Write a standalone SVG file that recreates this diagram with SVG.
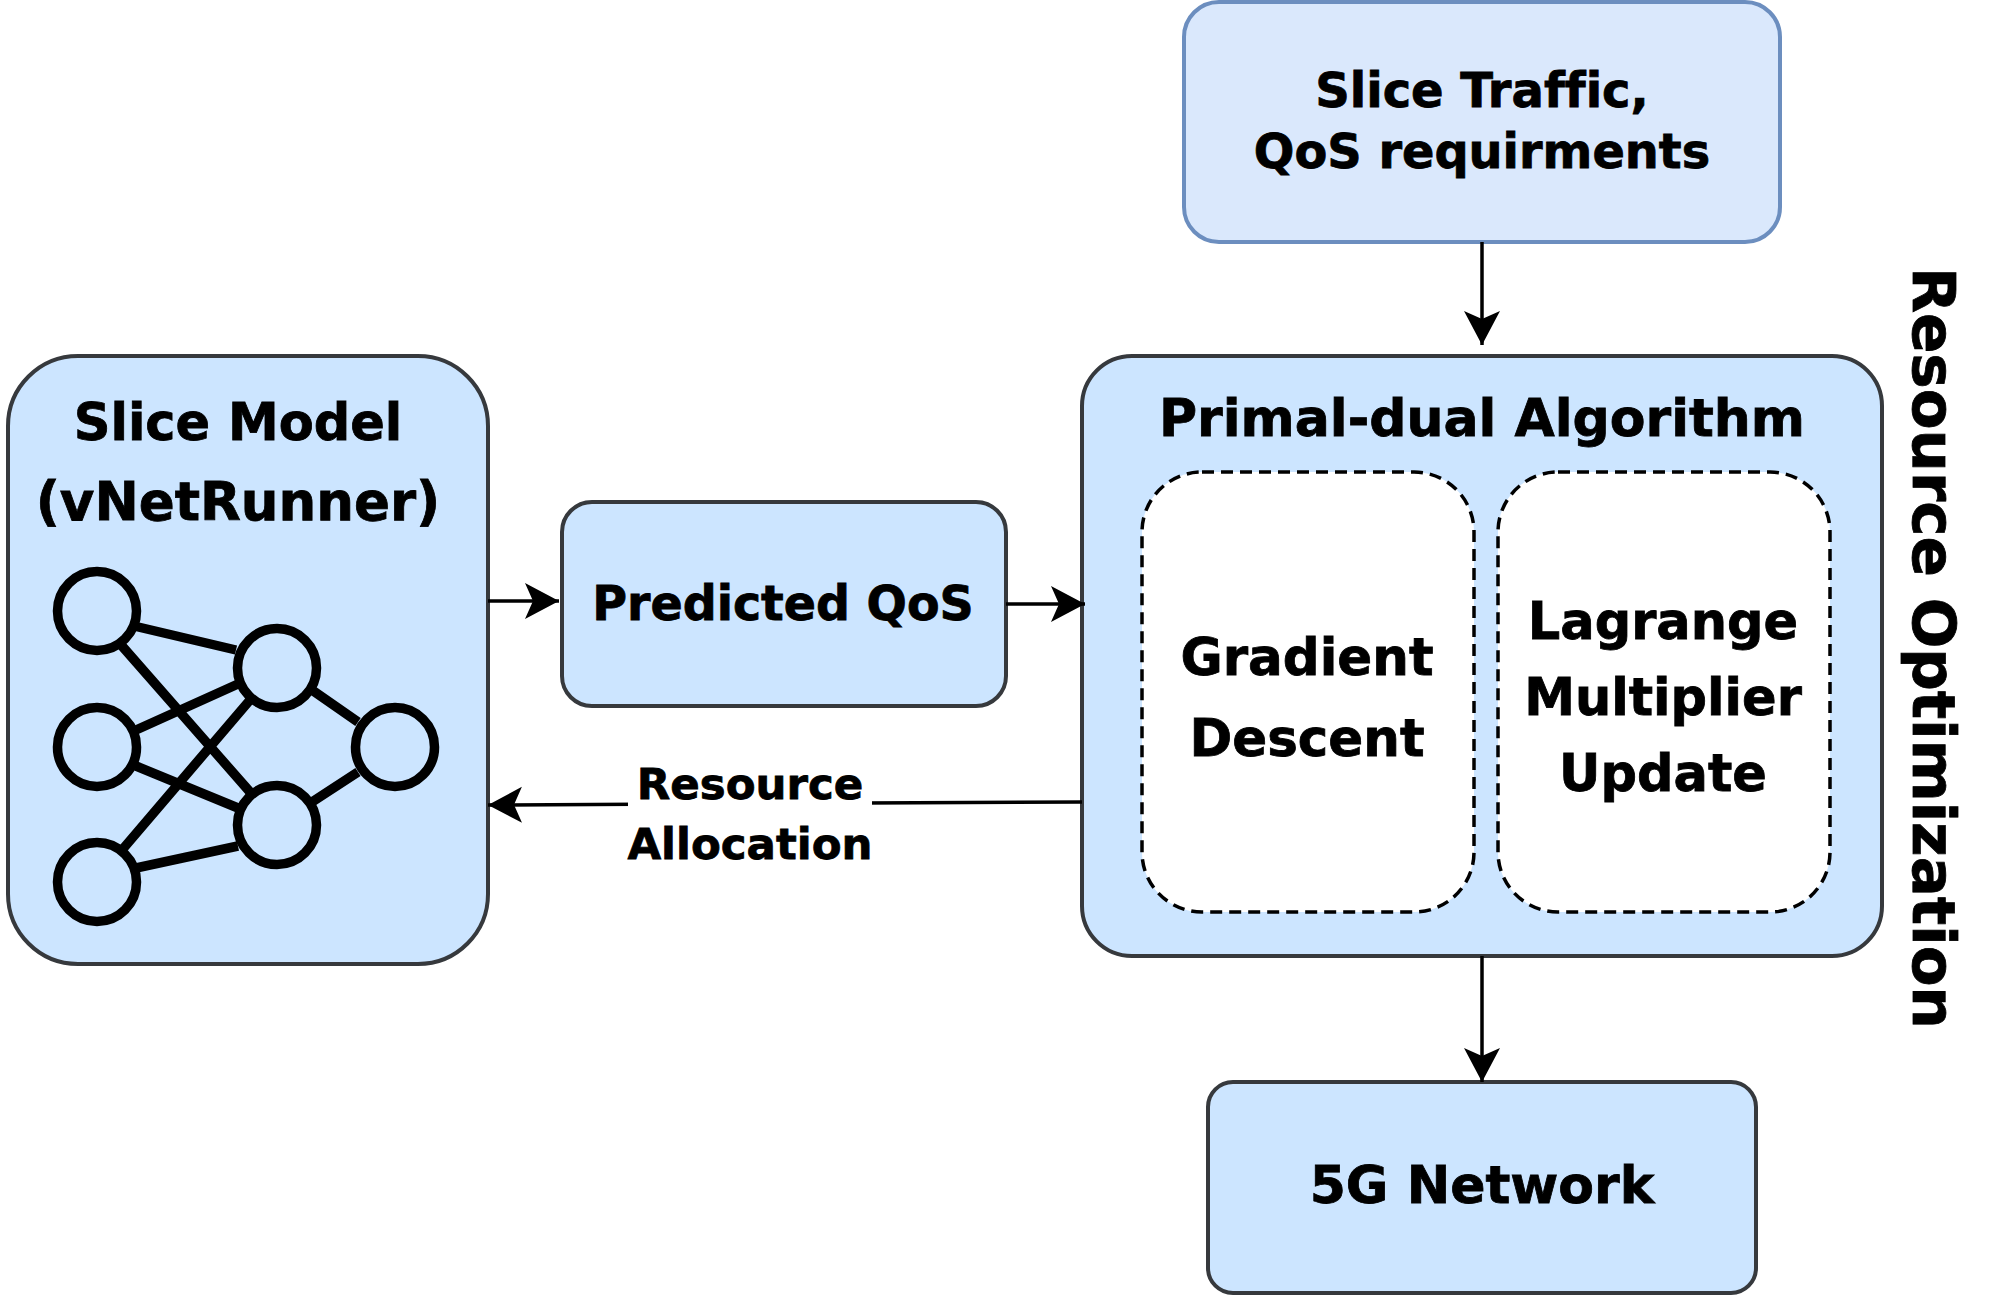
<svg xmlns="http://www.w3.org/2000/svg" width="2004" height="1296" viewBox="0 0 2004 1296">
<style>
.box{fill:#cce5ff;stroke:#36393d;stroke-width:4}
.inner{fill:#fff;stroke:#000;stroke-width:3.5;stroke-dasharray:12 7}
.t{font-family:"DejaVu Sans",sans-serif;font-weight:700;fill:#000;stroke:#000;stroke-width:.8;text-anchor:middle;font-variant-ligatures:none}
.c{fill:none;stroke:#000;stroke-width:3.5}
.nn{fill:none;stroke:#000;stroke-width:9.5}
</style>
<defs>
<marker id="arr" markerUnits="userSpaceOnUse" markerWidth="40" markerHeight="40" refX="34" refY="20" orient="auto" viewBox="0 0 40 40">
<path d="M0 2L34 20L0 38L8 20Z" fill="#000"/>
</marker>
</defs>
<rect width="2004" height="1296" fill="#fff"/>
<g id="slice-model">
<rect class="box" x="8" y="356" width="480" height="608" rx="70"/>
<text class="t" font-size="51" x="238" y="440">Slice Model</text>
<text class="t" font-size="53" x="238" y="520">(vNetRunner)</text>
<g class="nn">
<path d="M134 626L236 650M122 646L250 792M136 730L238 684M136 766L238 808M122 850L250 700M136 868L238 846M312 690L358 722M312 802L358 772"/>
<circle cx="97" cy="611" r="39.5"/><circle cx="97" cy="747" r="39.5"/><circle cx="97" cy="882" r="39.5"/>
<circle cx="277" cy="668" r="39.5"/><circle cx="277" cy="825" r="39.5"/><circle cx="395" cy="747" r="39.5"/>
</g>
</g>
<g id="predicted-qos">
<rect class="box" x="562" y="502" width="444" height="204" rx="30"/>
<text class="t" font-size="47.5" x="783" y="620">Predicted QoS</text>
</g>
<g id="primal-dual">
<rect class="box" x="1082" y="356" width="800" height="600" rx="50"/>
<text class="t" font-size="52" x="1482" y="436">Primal-dual Algorithm</text>
</g>
<g id="gradient-descent">
<rect class="inner" x="1142" y="472" width="332" height="440" rx="60"/>
<text class="t" font-size="51.5" x="1307" y="675">Gradient</text>
<text class="t" font-size="51.5" x="1307" y="756">Descent</text>
</g>
<g id="lagrange">
<rect class="inner" x="1498" y="472" width="332" height="440" rx="60"/>
<text class="t" font-size="51" x="1663" y="639">Lagrange</text>
<text class="t" font-size="51" x="1663" y="715">Multiplier</text>
<text class="t" font-size="51" x="1663" y="791">Update</text>
</g>
<g id="slice-traffic">
<rect x="1184" y="2" width="596" height="240" rx="35" fill="#dae8fc" stroke="#6c8ebf" stroke-width="4"/>
<text class="t" font-size="48" x="1482" y="107">Slice Traffic,</text>
<text class="t" font-size="47.8" x="1482" y="168">QoS requirments</text>
</g>
<g id="network">
<rect class="box" x="1208" y="1082" width="548" height="211" rx="25"/>
<text class="t" font-size="52" x="1482" y="1203">5G Network</text>
</g>
<g id="resource-optimization">
<text class="t" font-size="59.5" transform="translate(1913 648) rotate(90)">Resource Optimization</text>
</g>
<g id="connectors">
<line class="c" x1="488" y1="601" x2="559" y2="601" marker-end="url(#arr)"/>
<line class="c" x1="1006" y1="604" x2="1085" y2="604" marker-end="url(#arr)"/>
<line class="c" x1="1482" y1="242" x2="1482" y2="345" marker-end="url(#arr)"/>
<line class="c" x1="1482" y1="956" x2="1482" y2="1082" marker-end="url(#arr)"/>
<line class="c" x1="1082" y1="802" x2="488" y2="805" marker-end="url(#arr)"/>
<rect x="628" y="760" width="244" height="110" fill="#fff"/>
<text class="t" font-size="43.5" x="750" y="799">Resource</text>
<text class="t" font-size="43.5" x="750" y="859">Allocation</text>
</g>
</svg>
